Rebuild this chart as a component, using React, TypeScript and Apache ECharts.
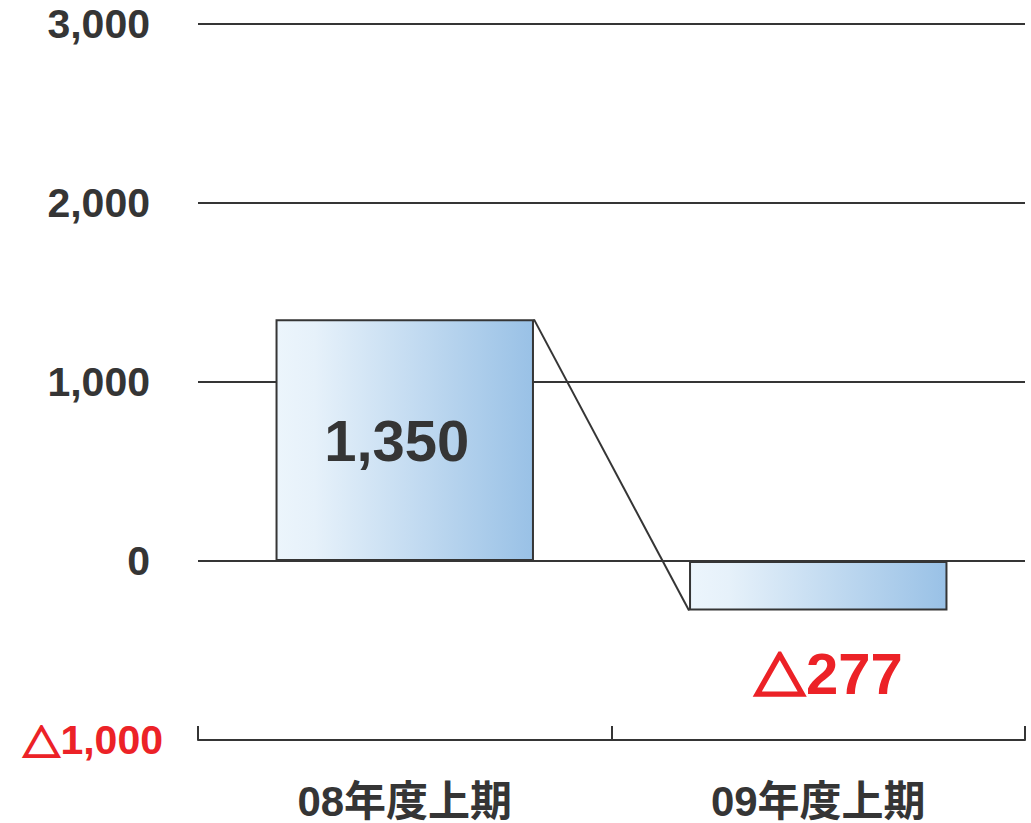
import React, { useEffect, useRef } from "react";
import * as echarts from "echarts";

const categories = ["08年度上期", "09年度上期"];
const values = [1350, -277];
const yTicks = { min: -1000, max: 3000, interval: 1000 };

const FONT = "'Liberation Sans', 'Noto Sans CJK JP', Arial, sans-serif";
const CJK = "'Noto Sans CJK JP', sans-serif";
const DARK = "#353535";
const RED = "#ec2227";

function num(v: number): string {
  return Math.abs(v).toLocaleString("en-US");
}

export default function App() {
  const ref = useRef<HTMLDivElement>(null);
  useEffect(() => {
    if (!ref.current) return;
    const chart = echarts.init(ref.current, null, { renderer: "svg" });
    const barWidthRatio = 0.625;
    const option: any = {
      animation: false,
      backgroundColor: "#ffffff",
      grid: { left: 198, right: 6, top: 24, bottom: 83, containLabel: false, outerBoundsMode: "none" },
      xAxis: {
        type: "category",
        data: categories,
        position: "bottom",
        axisLine: { show: true, onZero: false, lineStyle: { color: DARK, width: 2 } },
        axisTick: { show: true, inside: true, length: 14, lineStyle: { color: DARK, width: 2 } },
        axisLabel: {
          margin: 40,
          fontSize: 42,
          fontWeight: "bold",
          color: DARK,
          fontFamily: FONT,
        },
      },
      yAxis: {
        type: "value",
        min: yTicks.min,
        max: yTicks.max,
        interval: yTicks.interval,
        axisLine: { show: false },
        axisTick: { show: false },
        splitLine: { show: true, lineStyle: { color: DARK, width: 2 } },
        axisLabel: {
          margin: 35,
          fontFamily: FONT,
          formatter: (v: number) =>
            v < 0 ? "{tri|△}{neg|" + num(v) + "}" : "{pos|" + num(v) + "}{sp|}",
          rich: {
            pos: { fontSize: 41, fontWeight: "bold", color: DARK, fontFamily: FONT },
            neg: { fontSize: 41, fontWeight: "bold", color: RED, fontFamily: FONT },
            tri: {
              fontSize: 38,
              fontWeight: "bold",
              color: RED,
              fontFamily: CJK,
              textBorderColor: RED,
              textBorderWidth: 2,
            },
            sp: { width: 13 },
          },
        },
      },
      series: [
        {
          type: "bar",
          data: values.map((v) => ({
            value: v,
            label:
              v < 0
                ? {
                    show: true,
                    position: "bottom",
                    distance: 34,
                    offset: [10, 0],
                    formatter: () => "{tri|△}{neg|" + num(v) + "}",
                    rich: {
                      tri: {
                        fontSize: 52,
                        fontWeight: "bold",
                        color: RED,
                        fontFamily: CJK,
                        textBorderColor: RED,
                        textBorderWidth: 3,
                      },
                      neg: { fontSize: 58, fontWeight: "bold", color: RED, fontFamily: FONT },
                    },
                  }
                : {
                    show: true,
                    position: "inside",
                    offset: [-8, 0],
                    color: DARK,
                    fontSize: 58,
                    fontWeight: "bold",
                    fontFamily: FONT,
                    formatter: () => num(v),
                  },
          })),
          barWidth: barWidthRatio * 100 + "%",
          itemStyle: {
            borderColor: DARK,
            borderWidth: 2,
            color: new echarts.graphic.LinearGradient(0, 0, 1, 0, [
              { offset: 0, color: "#ecf5fc" },
              { offset: 0.15, color: "#e6f1fa" },
              { offset: 1, color: "#99c1e6" },
            ]),
          },
          z: 3,
        },
        {
          type: "custom",
          data: [[0]],
          z: 4,
          renderItem: (params: any, api: any) => {
            const p1 = api.coord([0, values[0]]);
            const p2 = api.coord([1, values[1]]);
            const bw = api.size([1, 0])[0] * barWidthRatio;
            return {
              type: "line",
              shape: { x1: p1[0] + bw / 2, y1: p1[1], x2: p2[0] - bw / 2, y2: p2[1] },
              style: { stroke: DARK, lineWidth: 2 },
            };
          },
        },
      ],
    };
    chart.setOption(option);
    return () => chart.dispose();
  }, []);
  return (
    <div
      ref={ref}
      style={{ position: "fixed", left: 0, top: 0, width: 1031, height: 823, background: "#fff" }}
    />
  );
}
